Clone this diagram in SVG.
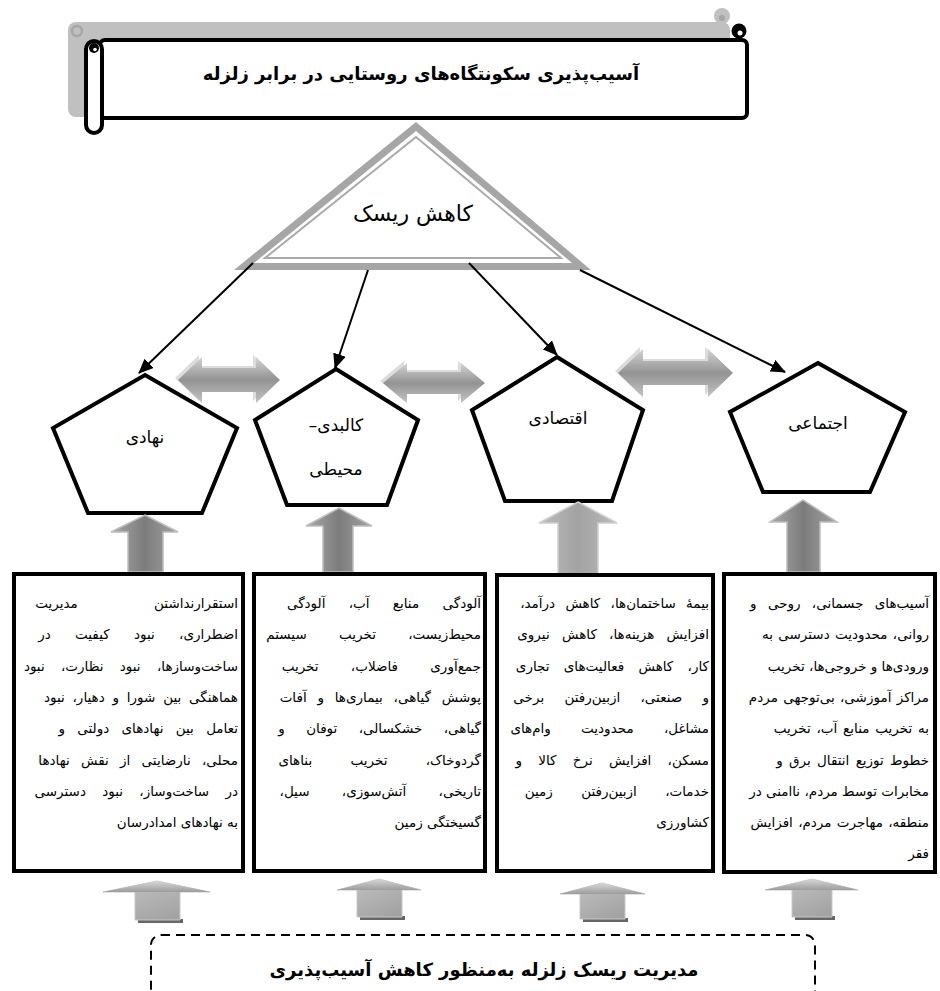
<svg xmlns="http://www.w3.org/2000/svg" width="940" height="991" viewBox="0 0 940 991">
<style>
.ar{font-family:'DejaVu Sans','Noto Sans',sans-serif;fill:#000}
.title{font-size:18px;font-weight:bold}
.lbl{font-size:17px}
.bt{font-size:13.5px}
.pent{fill:#fff;stroke:#000;stroke-width:4;stroke-linejoin:miter}
.box{fill:#fff;stroke:#000;stroke-width:4}
.con{stroke:#000;stroke-width:2;fill:none}
</style>
<defs>
<marker id="ah" markerUnits="userSpaceOnUse" markerWidth="15" markerHeight="13" viewBox="0 0 15 13" refX="14" refY="6.5" orient="auto">
<path d="M0,0 L15,6.5 L0,13 Z" fill="#000"/>
</marker>
<linearGradient id="hg" x1="0" y1="0" x2="0" y2="1">
<stop offset="0" stop-color="#d4d4d4"/><stop offset="0.5" stop-color="#939393"/><stop offset="1" stop-color="#c4c4c4"/>
</linearGradient>
<linearGradient id="vgd" x1="0" y1="0" x2="1" y2="0">
<stop offset="0" stop-color="#a9a9a9"/><stop offset="0.5" stop-color="#7c7c7c"/><stop offset="1" stop-color="#a3a3a3"/>
</linearGradient>
<linearGradient id="vgl" x1="0" y1="0" x2="1" y2="0">
<stop offset="0" stop-color="#bdbdbd"/><stop offset="0.5" stop-color="#a2a2a2"/><stop offset="1" stop-color="#bababa"/>
</linearGradient>
<linearGradient id="bh" x1="0" y1="0" x2="0" y2="1">
<stop offset="0" stop-color="#d8d8d8"/><stop offset="1" stop-color="#9c9c9c"/>
</linearGradient>
<linearGradient id="bs" x1="0" y1="0" x2="1" y2="1">
<stop offset="0" stop-color="#c6c6c6"/><stop offset="1" stop-color="#9a9a9a"/>
</linearGradient>
</defs>

<g id="title">
<rect x="68" y="22" width="662" height="95" rx="8" fill="#c0c0c0"/>
<circle cx="722" cy="16" r="8" fill="#c0c0c0"/>
<circle cx="722" cy="18" r="3" fill="#a6a6a6"/>
<circle cx="77" cy="31" r="5" fill="none" stroke="#a6a6a6" stroke-width="2.5"/>
<rect x="100" y="40" width="647" height="78" rx="5" fill="#fff" stroke="#000" stroke-width="4"/>
<circle cx="739" cy="31" r="7.5" fill="#000"/>
<circle cx="740" cy="33" r="2.5" fill="#fff"/>
<rect x="86" y="41" width="16" height="92" rx="8" fill="#fff" stroke="#000" stroke-width="4"/>
<circle cx="94" cy="48" r="5" fill="#000"/>
<circle cx="95" cy="49.5" r="1.8" fill="#fff"/>
<text class="ar title" x="421" y="80" text-anchor="middle" direction="rtl">آسیب‌پذیری سکونتگاه‌های روستایی در برابر زلزله</text>
</g>

<g id="risk-reduction">
<polygon points="416,122 591,270 234,270" fill="#a6a6a6"/>
<polygon points="416,131 572,263 254,263" fill="#fff"/>
<polygon points="416,137 561,258 265,258" fill="none" stroke="#aaaaaa" stroke-width="2"/>
<text class="ar" x="413" y="221" font-size="22" text-anchor="middle" direction="rtl">کاهش ریسک</text>
</g>

<g id="connectors">
<line class="con" x1="253" y1="263" x2="139" y2="373" marker-end="url(#ah)"/>
<line class="con" x1="368" y1="270" x2="335" y2="368" marker-end="url(#ah)"/>
<line class="con" x1="469" y1="263" x2="557" y2="355" marker-end="url(#ah)"/>
<line class="con" x1="580" y1="270" x2="785" y2="372" marker-end="url(#ah)"/>
</g>

<g id="node-nahadi">
<polygon class="pent" points="145,375 237,428 202,513 88,513 53,428"/>
<text class="ar lbl" x="145" y="443" text-anchor="middle" direction="rtl">نهادی</text>
</g>
<g id="node-kalbadi">
<polygon class="pent" points="336,369 418,420 387,505 287,505 255,420"/>
<text class="ar lbl" x="336" y="431" text-anchor="middle" direction="rtl">کالبدی–</text>
<text class="ar lbl" x="336" y="475" text-anchor="middle" direction="rtl">محیطی</text>
</g>
<g id="node-eqtesadi">
<polygon class="pent" points="557,357 643,410 612,501 505,501 472,410"/>
<text class="ar lbl" x="558" y="424" text-anchor="middle" direction="rtl">اقتصادی</text>
</g>
<g id="node-ejtemai">
<polygon class="pent" points="818,363 905,412 870,492 763,492 730,412"/>
<text class="ar lbl" x="818" y="429" text-anchor="middle" direction="rtl">اجتماعی</text>
</g>

<g id="block-arrows">
<path d="M175,378 L199,355 L199,366 L253,366 L253,355 L277,378 L253,401 L253,390 L199,390 L199,401 Z" fill="#dcdcdc"/>
<path d="M178,380 L202,357 L202,368 L256,368 L256,357 L280,380 L256,403 L256,392 L202,392 L202,403 Z" fill="url(#hg)"/>
<path d="M380,381 L404,361 L404,370 L458,370 L458,361 L482,381 L458,401 L458,392 L404,392 L404,401 Z" fill="#dcdcdc"/>
<path d="M383,383 L407,363 L407,372 L461,372 L461,363 L485,383 L461,403 L461,394 L407,394 L407,403 Z" fill="url(#hg)"/>
<path d="M615,371 L640,347 L640,359 L705,359 L705,347 L730,371 L705,395 L705,383 L640,383 L640,395 Z" fill="#dcdcdc"/>
<path d="M618,373 L643,349 L643,361 L708,361 L708,349 L733,373 L708,397 L708,385 L643,385 L643,397 Z" fill="url(#hg)"/>
<path d="M145,515 L178,532 L163,532 L163,572 L128,572 L128,532 L111,532 Z" fill="url(#vgd)" stroke="#bdbdbd" stroke-width="1.5"/>
<path d="M339,508 L372,526 L353,526 L353,572 L323,572 L323,526 L306,526 Z" fill="url(#vgd)" stroke="#bdbdbd" stroke-width="1.5"/>
<path d="M578,502 L617,523 L598,523 L598,574 L558,574 L558,523 L539,523 Z" fill="url(#vgl)" stroke="#cfcfcf" stroke-width="1.5"/>
<path d="M803,500 L837,522 L820,522 L820,572 L787,572 L787,522 L770,522 Z" fill="url(#vgd)" stroke="#bdbdbd" stroke-width="1.5"/>
<rect x="138" y="919" width="45" height="4" fill="#666"/>
<path d="M157,881 L210,892 L180,892 L180,920 L135,920 L135,892 L103,892 Z" fill="url(#bs)" stroke="#c8c8c8" stroke-width="1"/>
<path d="M157,881 L210,892 L103,892 Z" fill="url(#bh)"/>
<rect x="360" y="916" width="45" height="4" fill="#666"/>
<path d="M379,879 L421,890 L402,890 L402,917 L357,917 L357,890 L337,890 Z" fill="url(#bs)" stroke="#c8c8c8" stroke-width="1"/>
<path d="M379,879 L421,890 L337,890 Z" fill="url(#bh)"/>
<rect x="583" y="918" width="45" height="4" fill="#666"/>
<path d="M602,883 L645,894 L625,894 L625,919 L580,919 L580,894 L560,894 Z" fill="url(#bs)" stroke="#c8c8c8" stroke-width="1"/>
<path d="M602,883 L645,894 L560,894 Z" fill="url(#bh)"/>
<rect x="795" y="916" width="40" height="4" fill="#666"/>
<path d="M812,879 L858,890 L832,890 L832,917 L792,917 L792,890 L765,890 Z" fill="url(#bs)" stroke="#c8c8c8" stroke-width="1"/>
<path d="M812,879 L858,890 L765,890 Z" fill="url(#bh)"/>
</g>

<g id="box-nahadi">
<rect class="box" x="14" y="574" width="229" height="297"/>
<g class="ar bt" direction="rtl" text-anchor="start">
<text x="238" y="608" word-spacing="72">استقرارنداشتن مدیریت</text>
<text x="238" y="639" word-spacing="20">اضطراری، نبود کیفیت در</text>
<text x="238" y="671" word-spacing="12">ساخت‌وسازها، نبود نظارت، نبود</text>
<text x="238" y="702" word-spacing="3.5">هماهنگی بین شورا و دهیار، نبود</text>
<text x="238" y="733" word-spacing="8">تعامل بین نهادهای دولتی و</text>
<text x="238" y="765" word-spacing="7">محلی، نارضایتی از نقش نهادها</text>
<text x="238" y="796" word-spacing="12">در ساخت‌وساز، نبود دسترسی</text>
<text x="238" y="827">به نهادهای امدادرسان</text>
</g>
</g>

<g id="box-kalbadi">
<rect class="box" x="254" y="574" width="231" height="297"/>
<g class="ar bt" direction="rtl" text-anchor="start">
<text x="481" y="608" word-spacing="19">آلودگی منابع آب، آلودگی</text>
<text x="481" y="639" word-spacing="28">محیط‌زیست، تخریب سیستم</text>
<text x="481" y="671" word-spacing="28">جمع‌آوری فاضلاب، تخریب</text>
<text x="481" y="702" word-spacing="6.5">پوشش گیاهی، بیماری‌ها و آفات</text>
<text x="481" y="733" word-spacing="17">گیاهی، خشکسالی، توفان و</text>
<text x="481" y="765" word-spacing="34">گردوخاک، تخریب بناهای</text>
<text x="481" y="796" word-spacing="28">تاریخی، آتش‌سوزی، سیل،</text>
<text x="481" y="827">گسیختگی زمین</text>
</g>
</g>

<g id="box-eqtesadi">
<rect class="box" x="497" y="575" width="216" height="296"/>
<g class="ar bt" direction="rtl" text-anchor="start">
<text x="709" y="608" word-spacing="6">بیمهٔ ساختمان‌ها، کاهش درآمد،</text>
<text x="709" y="639" word-spacing="8">افزایش هزینه‌ها، کاهش نیروی</text>
<text x="709" y="671" word-spacing="10">کار، کاهش فعالیت‌های تجاری</text>
<text x="709" y="702" word-spacing="16">و صنعتی، ازبین‌رفتن برخی</text>
<text x="709" y="733" word-spacing="26">مشاغل، محدودیت وام‌های</text>
<text x="709" y="765" word-spacing="12">مسکن، افزایش نرخ کالا و</text>
<text x="709" y="796" word-spacing="24">خدمات، ازبین‌رفتن زمین</text>
<text x="709" y="827">کشاورزی</text>
</g>
</g>

<g id="box-ejtemai">
<rect class="box" x="724" y="574" width="211" height="298"/>
<g class="ar bt" direction="rtl" text-anchor="start">
<text x="929" y="608" word-spacing="7">آسیب‌های جسمانی، روحی و</text>
<text x="929" y="639" word-spacing="1">روانی، محدودیت دسترسی به</text>
<text x="929" y="671">ورودی‌ها و خروجی‌ها، تخریب</text>
<text x="929" y="702" word-spacing="1">مراکز آموزشی، بی‌توجهی مردم</text>
<text x="929" y="733" word-spacing="1.5">به تخریب منابع آب، تخریب</text>
<text x="929" y="765" word-spacing="2">خطوط توزیع انتقال برق و</text>
<text x="929" y="796">مخابرات توسط مردم، ناامنی در</text>
<text x="929" y="827" word-spacing="1">منطقه، مهاجرت مردم، افزایش</text>
<text x="929" y="858">فقر</text>
</g>
</g>

<g id="risk-management">
<rect x="151" y="935" width="664" height="80" rx="10" fill="#fff" stroke="#000" stroke-width="2" stroke-dasharray="9 6"/>
<text class="ar title" x="484" y="976" text-anchor="middle" direction="rtl">مدیریت ریسک زلزله به‌منظور کاهش آسیب‌پذیری</text>
</g>
</svg>
